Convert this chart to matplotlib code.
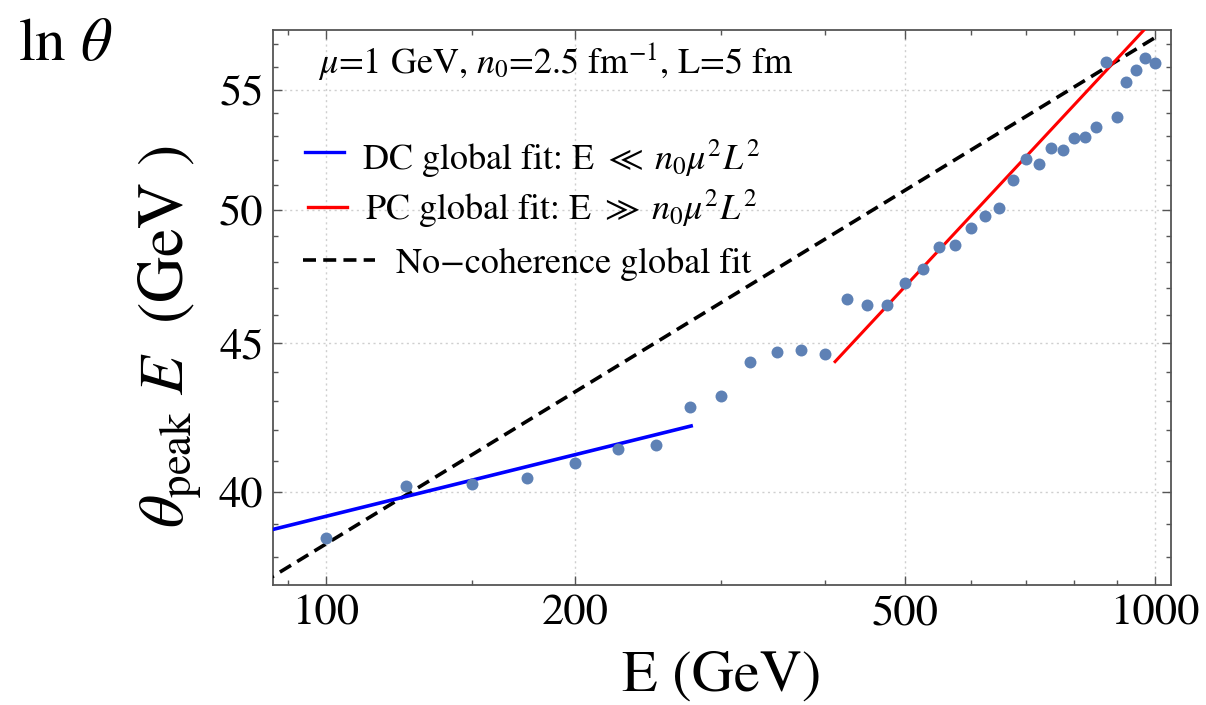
import matplotlib
matplotlib.use("Agg")
import matplotlib.pyplot as plt
from matplotlib.ticker import FixedLocator, NullFormatter, FixedFormatter

plt.rcParams['font.family'] = ['STIXGeneral', 'DejaVu Sans']
plt.rcParams['mathtext.fontset'] = 'stix'

# ---------------- data ----------------
energy = [100, 125, 150, 175, 200, 225, 250, 275, 300, 325, 350, 375, 400,
          425, 450, 475, 500, 525, 550, 575, 600, 625, 650, 675, 700, 725,
          750, 775, 800, 825, 850, 875, 900, 925, 950, 975, 1000]
theta_E = [38.57, 40.19, 40.25, 40.44, 40.94, 41.40, 41.53, 42.78, 43.17,
           44.33, 44.69, 44.76, 44.62, 46.60, 46.40, 46.40, 47.20, 47.72,
           48.55, 48.62, 49.30, 49.76, 50.08, 51.19, 52.06, 51.84, 52.50,
           52.43, 52.91, 52.99, 53.38, 56.22, 53.83, 55.34, 55.86, 56.40,
           56.15]

dc_E = [80, 276]
dc_val = [38.63, 42.15]
pc_E = [411.7, 1000]
pc_val = [44.35, 58.17]
nc_E = [80, 1000]
nc_val = [36.93, 57.29]

x_major = [100, 200, 500, 1000]
x_minor = [90, 150, 300, 400, 600, 700, 800, 900]
y_major = [40, 45, 50, 55]
y_minor = [38, 39, 41, 42, 43, 44, 46, 47, 48, 49, 51, 52, 53, 54, 56, 57]

# ---------------- figure ----------------
fig = plt.figure(figsize=(12.06, 7.05), dpi=100)
L, R, B, T = 273.3 / 1206, 1170.7 / 1206, 1 - 585.3 / 705, 1 - 30 / 705
ax = fig.add_axes([L, B, R - L, T - B])
ax.set_xscale('log')
ax.set_yscale('log')
ax.set_xlim(86.45, 1046)
ax.set_ylim(37.16, 57.65)

ax.xaxis.set_major_locator(FixedLocator(x_major))
ax.xaxis.set_major_formatter(FixedFormatter([str(v) for v in x_major]))
ax.xaxis.set_minor_locator(FixedLocator(x_minor))
ax.xaxis.set_minor_formatter(NullFormatter())
ax.yaxis.set_major_locator(FixedLocator(y_major))
ax.yaxis.set_major_formatter(FixedFormatter([str(v) for v in y_major]))
ax.yaxis.set_minor_locator(FixedLocator(y_minor))
ax.yaxis.set_minor_formatter(NullFormatter())

frame_col = '#555555'
for s in ax.spines.values():
    s.set_color(frame_col)
    s.set_linewidth(1.3)
ax.tick_params(which='both', direction='in', top=True, right=True,
               color=frame_col, width=1.0, labelsize=32)
ax.tick_params(which='major', length=6.5, pad=7)
ax.tick_params(which='minor', length=3.6)

ax.grid(True, which='major', color='#cfcfcf', linestyle=(0, (1.5, 2.5)), linewidth=1.0)
ax.set_axisbelow(True)

ax.plot(nc_E, nc_val, color='black', lw=2.6, dashes=(3.6, 2.0), zorder=3)
ax.plot(dc_E, dc_val, color=(0, 0, 1), lw=2.6, zorder=3)
ax.plot(pc_E, pc_val, color=(1, 0, 0), lw=2.2, zorder=3)
ax.plot(energy, theta_E, 'o', color='#5E81B5', ms=8.6, mec='none', zorder=4)

# legend (manual, to match handle placement)
def axx(px):
    return (px - 273.3) / 897.4

def axy(py):
    return (585.3 - py) / 555.3

tr = ax.transAxes
ax.plot([axx(305), axx(344)], [axy(151.7)] * 2, color=(0, 0, 1), lw=2.4, transform=tr, clip_on=False)
ax.plot([axx(308), axx(347)], [axy(206.7)] * 2, color=(1, 0, 0), lw=2.4, transform=tr, clip_on=False)
ax.plot([axx(303), axx(375)], [axy(260)] * 2, color='black', lw=2.6, dashes=(3.6, 2.0), transform=tr, clip_on=False)
fs_leg = 26
ax.text(axx(362), axy(170), r"DC global fit: E $\ll\; n_0\mu^2L^2$", fontsize=fs_leg,
        transform=tr, ha='left', va='baseline')
ax.text(axx(365), axy(220), r"PC global fit: E $\gg\; n_0\mu^2L^2$", fontsize=fs_leg,
        transform=tr, ha='left', va='baseline')
ax.text(axx(396), axy(273), "No\u2212coherence global fit", fontsize=fs_leg,
        transform=tr, ha='left', va='baseline')
ax.text(axx(318), axy(73.3), r"$\mu$=1 GeV, $n_0$=2.5 fm$^{-1}$, L=5 fm", fontsize=fs_leg,
        transform=tr, ha='left', va='baseline')

# axis labels
fig.text(722 / 1206, 1 - 677 / 705, "E (GeV)", fontsize=42, ha='center', va='center')
fig.text(170 / 1206, 1 - 337 / 705, r"$\theta_{\mathrm{peak}}\ E$  (GeV )", fontsize=46,
         rotation=90, ha='center', va='center')
fig.text(18 / 1206, 1 - 60 / 705, r"ln $\theta$", fontsize=44, ha='left', va='baseline')

fig.savefig('out.png', dpi=100)
